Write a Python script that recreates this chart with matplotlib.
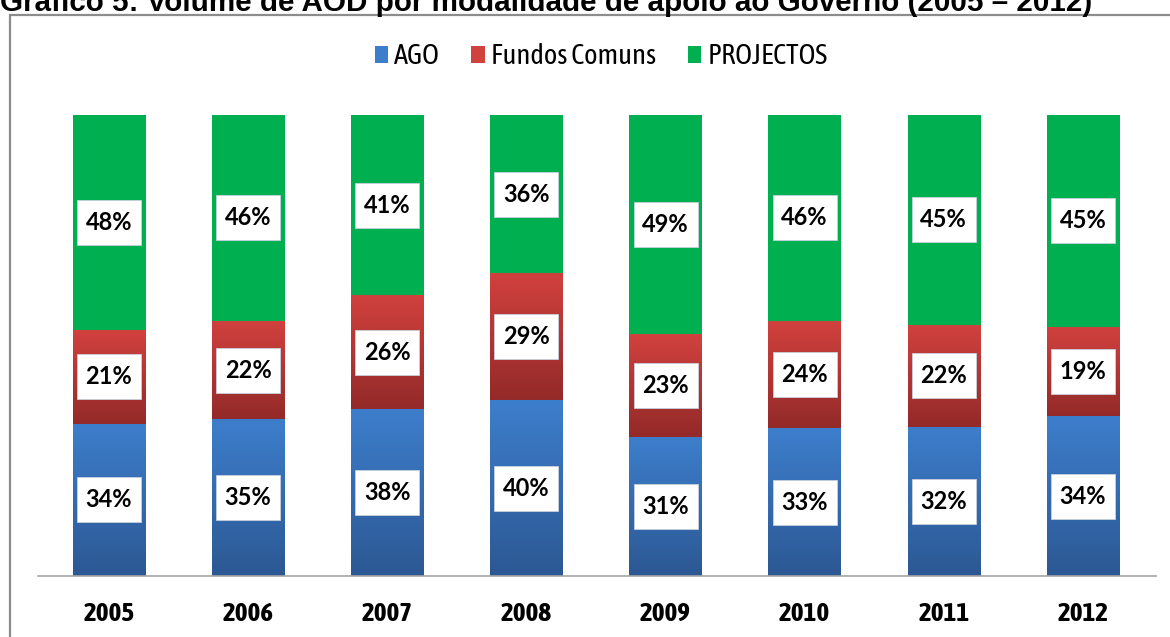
import numpy as np
import matplotlib.pyplot as plt
from matplotlib import font_manager as fm
from matplotlib import patheffects as pe
from matplotlib.transforms import ScaledTranslation
from matplotlib.colors import LinearSegmentedColormap
from matplotlib.patches import Rectangle, Patch

'''
dados (percentagens lidas no gráfico)
'''
anos = ['2005', '2006', '2007', '2008', '2009', '2010', '2011', '2012']
ago = [34, 35, 38, 40, 31, 33, 32, 34]
fundos_comuns = [21, 22, 26, 29, 23, 24, 22, 19]
projectos = [48, 46, 41, 36, 49, 46, 45, 45]
series_nomes = ['AGO', 'Fundos Comuns', 'PROJECTOS']

# cores (topo, base) de cada série
cores = [('#3d7ecc', '#2c5893'), ('#d1413e', '#932a29'), ('#00b050', '#00b050')]

# procura uma fonte estreita instalada (tipo Arial Narrow), de preferencia com negrito
fontes = fm.fontManager.ttflist
estreitas = sorted(set(f.name for f in fontes if 'Narrow' in f.name or 'Condensed' in f.name))
com_negrito = [n for n in estreitas
               if any(f.name == n and isinstance(f.weight, int) and f.weight >= 600 for f in fontes)]
if com_negrito:
    narrow = [com_negrito[0], 'Roboto', 'DejaVu Sans']
    engrossar = []
else:
    narrow = estreitas[:1] + ['Roboto', 'DejaVu Sans']
    engrossar = [pe.withStroke(linewidth=0.9, foreground='black')]

W, H = 1170, 637
fig = plt.figure(figsize=(W / 100, H / 100), dpi=100)

# titulo cortado no topo
fig.text(0.0, 1 - 11 / H, 'Gráfico 5: Volume de AOD por modalidade de apoio ao Governo (2005 – 2012)',
         fontsize=21.3, fontweight='bold', family=['Liberation Sans', 'DejaVu Sans'],
         ha='left', va='baseline')

# moldura
fig.patches.append(Rectangle((10 / W, -0.1), 1.2, (1 - 15 / H) + 0.1, transform=fig.transFigure,
                             fill=False, ec='#8c8c8c', lw=1.6))

ax = fig.add_axes([38 / W, 1 - 576 / H, (1156 - 38) / W, (576 - 115) / H])

valores = np.array([ago, fundos_comuns, projectos], dtype=float)
fracoes = valores / valores.sum(axis=0)
x = np.arange(len(anos))
largura = 0.52

base = np.zeros(len(anos))
for i, nome in enumerate(series_nomes):
    barras = ax.bar(x, fracoes[i], largura, bottom=base, color='none', edgecolor='none', zorder=2)
    cmap = LinearSegmentedColormap.from_list('g%d' % i, [cores[i][1], cores[i][0]])
    grad = np.linspace(0, 1, 256).reshape(-1, 1)
    for p in barras.patches:
        x0, y0 = p.get_x(), p.get_y()
        w, h = p.get_width(), p.get_height()
        im = ax.imshow(grad, extent=[x0, x0 + w, y0, y0 + h], origin='lower', cmap=cmap,
                       aspect='auto', zorder=2, interpolation='bilinear')
        im.set_clip_path(p)
    # rotulos com caixa branca de tamanho fixo (64 x 45 px)
    for j in range(len(anos)):
        yc = base[j] + fracoes[i][j] / 2
        caixa = Rectangle((-0.32, -0.225), 0.64, 0.45, fc='white', ec='#c8d0dc', lw=0.6, zorder=4,
                          transform=fig.dpi_scale_trans + ScaledTranslation(x[j], yc, ax.transData))
        ax.add_artist(caixa)
        ax.text(x[j], yc, '%d%%' % valores[i][j], ha='center', va='center',
                fontsize=17, fontweight='bold', family=['Lato', 'DejaVu Sans'], zorder=5)
    base = base + fracoes[i]

ax.set_xlim(-0.51, len(anos) - 1 + 0.525)
ax.set_ylim(0, 1)
ax.set_xticks(x)
ax.set_xticklabels(anos, fontsize=19.5, fontweight='bold', family=narrow)
for t in ax.get_xticklabels():
    t.set_path_effects(engrossar)
ax.tick_params(axis='x', length=0, pad=18)
ax.set_yticks([])
for s in ['top', 'right', 'left']:
    ax.spines[s].set_visible(False)
ax.spines['bottom'].set_color('#a6a6a6')
ax.spines['bottom'].set_linewidth(1.2)

handles = [Patch(facecolor=c[0], edgecolor='none') for c in cores]
leg = fig.legend(handles, series_nomes, loc='center', bbox_to_anchor=(601 / W, 1 - 57 / H), ncol=3,
                 frameon=False, handlelength=0.47, handleheight=0.5, handletextpad=0.22,
                 columnspacing=1.1, prop=dict(family=narrow, size=20.5))

plt.savefig('out.png', dpi=100)
